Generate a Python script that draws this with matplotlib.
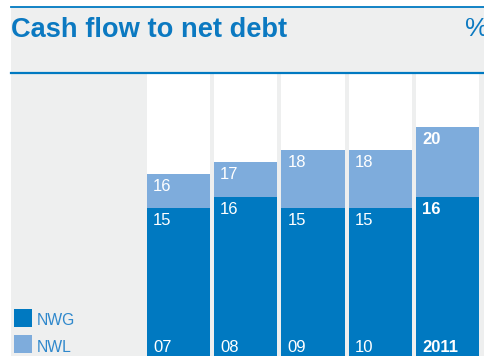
import matplotlib.pyplot as plt
from matplotlib.patches import Rectangle
from matplotlib.lines import Line2D

plt.rcParams['font.family'] = ['Liberation Sans', 'DejaVu Sans']

# Cash flow to net debt, %
years = ['07', '08', '09', '10', '2011']
nwg = [15, 16, 15, 15, 16]
nwl = [16, 17, 18, 18, 20]
series_names = ['NWG', 'NWL']

W, H = 485, 356
DARK = '#0079c1'
LIGHT = '#7eacdc'
GREY = '#eeefef'
TITLE = '#0b79c1'


def fx(x):
    return x / W


def fy(y):
    return 1 - y / H


fig = plt.figure(figsize=(W / 100, H / 100), dpi=100)
fig.patch.set_facecolor(GREY)

# white margin on the left and above the top rule
fig.add_artist(Rectangle((0, 0), fx(11), 1, transform=fig.transFigure,
                         facecolor='white', edgecolor='none', zorder=0))
fig.add_artist(Rectangle((0, fy(7)), 1, 1 - fy(7), transform=fig.transFigure,
                         facecolor='white', edgecolor='none', zorder=0))
fig.add_artist(Line2D([fx(11), 1], [fy(7), fy(7)], transform=fig.transFigure,
                      color=DARK, lw=1.3))
fig.add_artist(Line2D([fx(11), 1], [fy(72.5), fy(72.5)], transform=fig.transFigure,
                      color=DARK, lw=1.6))

fig.text(fx(11), fy(37), 'Cash flow to net debt', color=TITLE, fontsize=19.6,
         fontweight='bold', va='baseline', ha='left')
fig.text(fx(465), fy(36), '%', color=TITLE, fontsize=19, va='baseline', ha='left')

# bar area
ax = fig.add_axes([fx(147), 0, fx(479) - fx(147), fy(74)])
ax2 = ax.twinx()
for a in (ax, ax2):
    a.set_axis_off()

bw = 0.937
x = list(range(len(years)))
ax.set_xlim(-bw / 2, len(years) - 1 + bw / 2)
ax.set_ylim(0.43, 24.5)
ax2.set_ylim(1.45, 27.2)

ax.bar(x, [ax.get_ylim()[1]] * len(x), width=bw, color='white', zorder=0)
ax.bar(x, nwl, width=bw, color=LIGHT, zorder=1)
ax2.bar(x, nwg, width=bw, color=DARK, zorder=1)

for i, (g, l) in enumerate(zip(nwg, nwl)):
    bold = 'bold' if i == len(years) - 1 else 'normal'
    ax.annotate(str(l), (i - bw / 2, l), xytext=(6, -5), textcoords='offset pixels',
                color='white', fontsize=12, fontweight=bold, va='top', ha='left')
    ax2.annotate(str(g), (i - bw / 2, g), xytext=(6, -5), textcoords='offset pixels',
                 color='white', fontsize=12, fontweight=bold, va='top', ha='left')
    ax2.annotate(years[i], (i - bw / 2, 0), xycoords=ax2.get_xaxis_transform(),
                 xytext=(6, 4), textcoords='offset pixels', color='white',
                 fontsize=12, fontweight=bold, va='baseline', ha='left')

# legend
for name, col, top, base in zip(series_names, [DARK, LIGHT], [309, 335], [325, 352]):
    fig.add_artist(Rectangle((fx(14), fy(top + 18)), fx(18), 18 / H,
                             transform=fig.transFigure, facecolor=col, edgecolor='none'))
    fig.text(fx(37), fy(base), name, color='#2f88cc', fontsize=11.3,
             va='baseline', ha='left')

fig.savefig('out.png', dpi=100, facecolor=GREY)
